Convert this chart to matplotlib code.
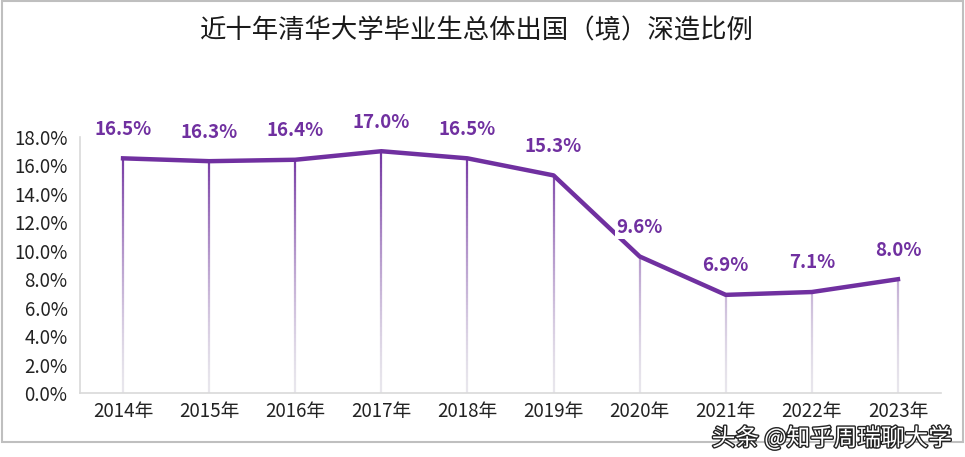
import matplotlib.pyplot as plt
import matplotlib.patheffects as pe
import numpy as np
from matplotlib.collections import LineCollection
from matplotlib.colors import to_rgb
from matplotlib.patches import Rectangle

plt.rcParams['font.family'] = ['Noto Sans CJK SC', 'DejaVu Sans']

years = ['2014年', '2015年', '2016年', '2017年', '2018年',
         '2019年', '2020年', '2021年', '2022年', '2023年']
ratio = [16.5, 16.3, 16.4, 17.0, 16.5, 15.3, 9.6, 6.9, 7.1, 8.0]
yticks = [0, 2, 4, 6, 8, 10, 12, 14, 16, 18]

purple = '#7030A0'

fig = plt.figure(figsize=(9.65, 4.57), dpi=100)
ax = fig.add_axes([80 / 965, 64 / 457, 861 / 965, 256 / 457])

# outer frame
fig.patches.append(Rectangle((2 / 965, 15 / 457), 961 / 965, 441 / 457,
                             transform=fig.transFigure, fill=False,
                             edgecolor='#bfbfbf', linewidth=1.5))

xs = np.arange(len(years))

# drop lines, fading from purple to light gray
top_c = np.array(to_rgb(purple))
bot_c = np.array(to_rgb('#e8e6ec'))
for x, v in zip(xs, ratio):
    yy = np.linspace(0, v, 60)
    segs = [[(x, yy[i]), (x, yy[i + 1])] for i in range(len(yy) - 1)]
    t = (yy[:-1] / 17.0) ** 1.5
    cols = [bot_c + (top_c - bot_c) * k for k in t]
    ax.add_collection(LineCollection(segs, colors=cols, linewidths=1.6, zorder=2))

ax.plot(xs, ratio, color=purple, linewidth=3.2, zorder=3,
        solid_joinstyle='round')

for x, v in zip(xs, ratio):
    ax.annotate(f'{v:.1f}%', (x, v), xytext=(0, 21), textcoords='offset points',
                ha='center', va='center', fontsize=13.5, fontweight='bold',
                color=purple, zorder=5,
                bbox=dict(boxstyle='square,pad=0.1', fc='white', ec='none'))

ax.set_xlim(-0.5, len(years) - 0.5)
ax.set_ylim(0, 18)
ax.set_xticks(xs)
ax.set_xticklabels(years, fontsize=13.5, color='#222222')
ax.set_yticks(yticks)
ax.set_yticklabels([f'{t:.1f}%' for t in yticks], fontsize=13.5, color='#222222')
ax.tick_params(length=0, pad=9)
ax.tick_params(axis='x', pad=6)
for s in ['top', 'right']:
    ax.spines[s].set_visible(False)
for s in ['left', 'bottom']:
    ax.spines[s].set_color('#d9d9d9')
    ax.spines[s].set_linewidth(1.2)

fig.text(477 / 965, 1 - 31 / 457, '近十年清华大学毕业生总体出国（境）深造比例',
         ha='center', va='center', fontsize=19, color='#1a1a1a')

# watermark
fig.text(952 / 965, 1 - 438 / 457, '头条 @知乎周瑞聊大学', ha='right', va='center',
         fontsize=17, color='white',
         path_effects=[pe.withStroke(linewidth=2, foreground='#222222')])

fig.savefig('out.png', dpi=100)
